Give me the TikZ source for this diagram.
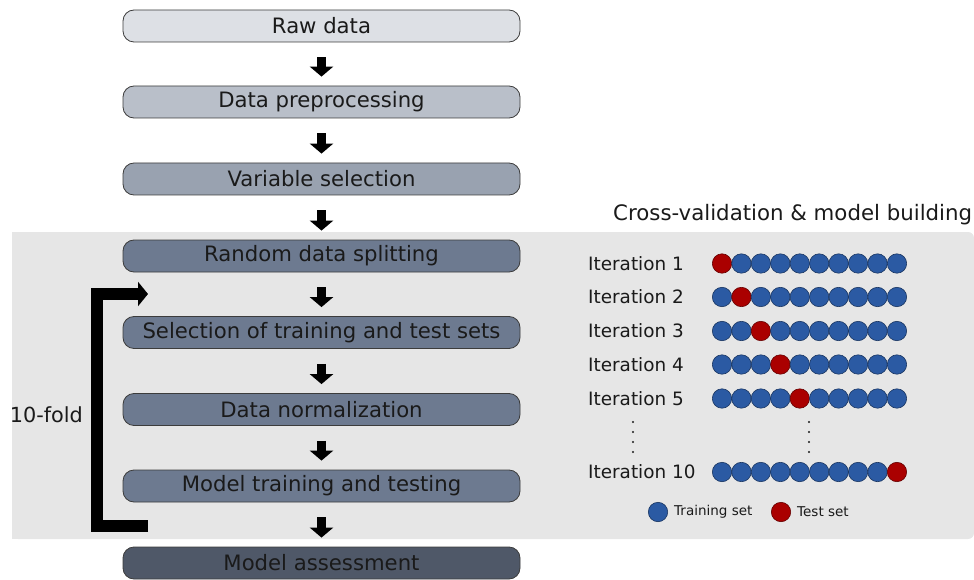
\documentclass[tikz,border=0pt]{standalone}
\usepackage{fontspec}
\setmainfont{DejaVu Sans}
\usetikzlibrary{arrows.meta}
\definecolor{txt}{HTML}{1A1A1A}
\definecolor{bg}{HTML}{E6E6E6}
\definecolor{c1}{HTML}{DDE0E5}
\definecolor{c2}{HTML}{B9BFC9}
\definecolor{c3}{HTML}{99A2B0}
\definecolor{c4}{HTML}{6D7A90}
\definecolor{c5}{HTML}{4F5868}
\definecolor{tblue}{HTML}{2B5AA3}
\definecolor{tred}{HTML}{AA0000}
\tikzset{
  stepbox/.style={draw=txt!85, line width=0.8pt, rounded corners=11pt,
    minimum width=397pt, minimum height=32pt, inner sep=0pt,
    font=\fontsize{21.2}{23}\selectfont, text=txt},
  blockarrow/.style={line width=8.5pt, draw=black,
    -{Triangle[width=23pt,length=10pt]}, shorten <=15pt, shorten >=9pt},
  looparrow/.style={line width=12pt, draw=black, line join=miter,
    -{Triangle[width=24pt,length=10pt]}},
  lbl/.style={font=\fontsize{18.4}{20}\selectfont, text=txt, anchor=west, inner sep=0pt},
  dot/.style={circle, draw=#1!60!black, line width=0.6pt, fill=#1, minimum size=19.4pt, inner sep=0pt},
  vdot/.style={circle, fill=txt, minimum size=2.4pt, inner sep=0pt},
}
\begin{document}
\begin{tikzpicture}[x=1pt,y=-1pt]
\useasboundingbox (0,0) rectangle (974,580);
\fill[bg, rounded corners=6pt] (12,232) rectangle (974,539);
\fill[bg] (12,232) rectangle (30,539);
% main boxes
\node[stepbox, fill=c1] (raw) at (321.5,26) {Raw data};
\node[stepbox, fill=c2] (pre) at (321.5,102) {Data preprocessing};
\node[stepbox, fill=c3] (var) at (321.5,179) {Variable selection};
\node[stepbox, fill=c4] (rnd) at (321.5,256) {Random data splitting};
\node[stepbox, fill=c4] (sel) at (321.5,332.5) {Selection of training and test sets};
\node[stepbox, fill=c4] (nrm) at (321.5,409.5) {Data normalization};
\node[stepbox, fill=c4] (trn) at (321.5,486) {Model training and testing};
\node[stepbox, fill=c5] (ass) at (321.5,563) {Model assessment};
\foreach \a/\b in {raw/pre,pre/var,var/rnd,rnd/sel,sel/nrm,nrm/trn,trn/ass}
  \draw[blockarrow] (\a) -- (\b);
% loop
\coordinate (lstart) at (148,526);
\coordinate (lend) at (148,294);
\draw[looparrow] (lstart) -- (97,526) -- (97,294) -- (lend);
\node[font=\fontsize{20.8}{22}\selectfont, text=txt, anchor=east, inner sep=0pt] (fold) at (83,415) {10-fold};
% right panel
\node[font=\fontsize{21.3}{23}\selectfont, text=txt, anchor=west, inner sep=0pt] (title) at (613,215) {Cross-validation \& model building};
\foreach \r/\y/\k in {1/263.5/1,2/297/2,3/331/3,4/364.5/4,5/398.5/5,10/472/10}{
  \node[lbl] (it\r) at (588,\y) {Iteration \r};
  \foreach \i in {1,...,10}{
    \ifnum\i=\k
      \node[dot=tred] (c\r-\i) at ({722+(\i-1)*19.44},\y) {};
    \else
      \node[dot=tblue] (c\r-\i) at ({722+(\i-1)*19.44},\y) {};
    \fi
  }
}
\foreach \yy in {422,432,442,452}{
  \node[vdot] at (633,\yy) {};
  \node[vdot] at (809,\yy) {};
}
% legend
\node[dot=tblue] (lgb) at (658,512) {};
\node[lbl, font=\fontsize{13.5}{15}\selectfont] (lgbt) at (674,511.5) {Training set};
\node[dot=tred] (lgr) at (781,512) {};
\node[lbl, font=\fontsize{13.5}{15}\selectfont] (lgrt) at (797,511.5) {Test set};
\end{tikzpicture}
\end{document}
